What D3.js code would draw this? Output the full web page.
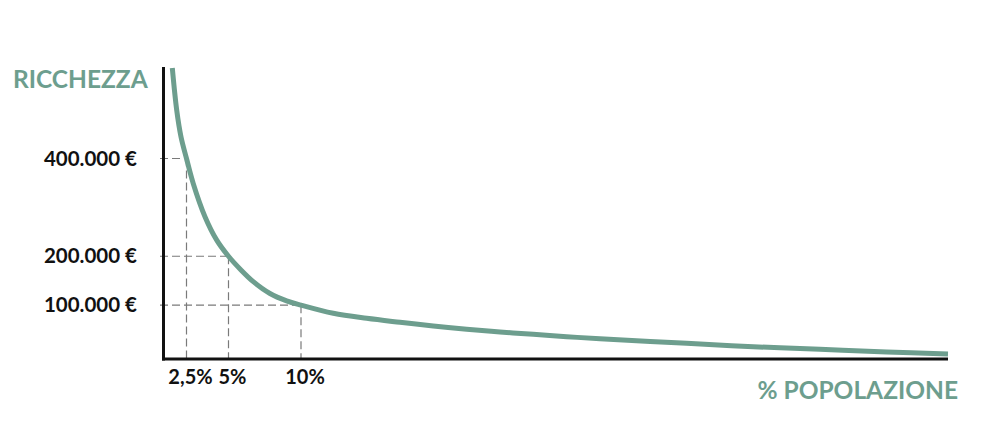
<!DOCTYPE html>
<html><head><meta charset="utf-8">
<script src="https://cdn.jsdelivr.net/npm/d3@7"></script>
<style>
html,body{margin:0;padding:0;background:#fff;}
svg text{font-family:Lato,"Open Sans",sans-serif;font-weight:700;}
</style></head>
<body><svg id="c" width="1000" height="440"></svg>
<script>
// Data
const popPct = [0.957, 1.435, 1.9, 2.5, 2.9, 3.6, 4.3, 5, 5.86, 6.71, 7.86, 9.01, 10, 14.49, 19.14, 23.77, 28.4, 33.05, 37.68, 42.31, 46.96, 51.59, 63.65, 72.92, 82.19, 91.47, 100];
const wealth = [585000, 499000, 444600, 400000, 349000, 281000, 233000, 200000, 172000, 148000, 123800, 108800, 100000, 83300, 73000, 64900, 57300, 50500, 45000, 40300, 35400, 31300, 21900, 14900, 9600, 4100, 0];
const yTickValues = [400000, 200000, 100000];
const yTickLabels = ["400.000 €", "200.000 €", "100.000 €"];
const xTickValues = [2.5, 5, 10];
const xTickLabels = ["2,5%", "5%", "10%"];
const yTitle = "RICCHEZZA";
const xTitle = "% POPOLAZIONE";

const green = "#6d9e8e";
const svg = d3.select("#c");

const x = d3.scaleLinear().domain([0, 2.5, 5, 10, 100]).range([163.5, 186.5, 228.5, 301, 948]);
const y = d3.scaleLinear().domain([0, 600000]).range([354, 60.75]);
const axisY = 359;

const guides = svg.append("g").attr("stroke", "#7a7a7a").attr("stroke-width", 1.2).attr("stroke-dasharray", "8,4").attr("fill", "none");
xTickValues.forEach((p, i) => {
  const w = yTickValues[i];
  guides.append("line").attr("x1", 160).attr("x2", x(p)).attr("y1", y(w)).attr("y2", y(w));
  guides.append("line").attr("x1", x(p)).attr("x2", x(p)).attr("y1", y(w)).attr("y2", axisY);
});

// curve
const pts = popPct.map((p, i) => [p, wealth[i]]);
svg.append("path").datum(pts)
  .attr("fill", "none").attr("stroke", green).attr("stroke-width", 5).attr("stroke-linecap", "butt")
  .attr("d", d3.line().x(d => x(d[0])).y(d => y(d[1])).curve(d3.curveCatmullRom.alpha(0.5)));

// axes
svg.append("line").attr("x1", x(0)).attr("x2", x(0)).attr("y1", 67).attr("y2", axisY + 1.5).attr("stroke", "#111").attr("stroke-width", 3);
svg.append("line").attr("x1", x(0) - 1.5).attr("x2", 948).attr("y1", axisY).attr("y2", axisY).attr("stroke", "#111").attr("stroke-width", 3);

// y tick labels
svg.append("g").selectAll("text").data(yTickValues).join("text")
  .attr("x", 137).attr("y", d => y(d) + 7).attr("text-anchor", "end")
  .attr("font-size", 20.5).attr("fill", "#111").text((d, i) => yTickLabels[i]);

// x tick labels
svg.append("g").selectAll("text").data(xTickValues).join("text")
  .attr("x", d => x(d) + 4).attr("y", 384).attr("text-anchor", "middle")
  .attr("font-size", 20).attr("fill", "#111").text((d, i) => xTickLabels[i]);

// titles
svg.append("text").attr("x", 13).attr("y", 88).attr("font-size", 24.5).attr("fill", green).text(yTitle);
svg.append("text").attr("x", 958).attr("y", 399).attr("text-anchor", "end").attr("font-size", 24.5).attr("fill", green).text(xTitle);
</script></body></html>
